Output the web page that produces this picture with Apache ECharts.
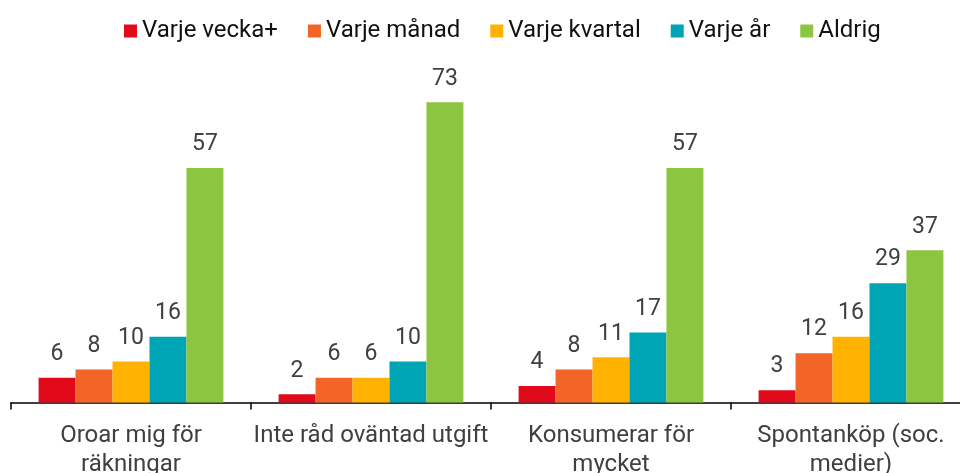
<!DOCTYPE html>
<html>
<head>
<meta charset="utf-8">
<script src="https://cdn.jsdelivr.net/npm/echarts@6/dist/echarts.min.js"></script>
<style>
  html, body { margin: 0; padding: 0; background: #fff; overflow: hidden; }
  #chart { width: 960px; height: 473px; }
</style>
</head>
<body>
<div id="chart"></div>
<script>
var categories = ['Oroar mig för\nräkningar', 'Inte råd oväntad utgift', 'Konsumerar för\nmycket', 'Spontanköp (soc.\nmedier)'];
var seriesNames = ['Varje vecka+', 'Varje månad', 'Varje kvartal', 'Varje år', 'Aldrig'];
var weekly = [6, 2, 4, 3];
var monthly = [8, 6, 8, 12];
var quarterly = [10, 6, 11, 16];
var yearly = [16, 10, 17, 29];
var never = [57, 73, 57, 37];

var myChart = echarts.init(document.getElementById('chart'));
var colors = ['#e2091a', '#f26527', '#ffb300', '#00a5b5', '#8cc540'];
var values = [weekly, monthly, quarterly, yearly, never];

var series = seriesNames.map(function(name, i) {
    return {
        name: name,
        type: 'bar',
        barGap: 0,
        barCategoryGap: '23%',
        data: values[i],
        label: {
            show: true,
            position: 'top',
            distance: 12,
            fontSize: 23,
            color: '#404040',
            fontFamily: 'Roboto'
        }
    };
});

option = {
    color: colors,
    animation: false,
    textStyle: { fontFamily: 'Roboto' },
    legend: {
        data: seriesNames,
        top: 14,
        left: 119,
        itemWidth: 13,
        itemHeight: 13,
        itemGap: 30,
        icon: 'rect',
        textStyle: { fontSize: 24, color: '#111', fontFamily: 'Roboto' }
    },
    grid: {
        top: 73.5,
        left: 11,
        width: 960,
        bottom: 70.5,
        containLabel: false,
        outerBoundsMode: 'none'
    },
    xAxis: [{
        type: 'category',
        data: categories,
        axisLine: { lineStyle: { color: '#000', width: 1.5 } },
        axisTick: { show: true, length: 7, lineStyle: { color: '#000', width: 1.5 } },
        axisLabel: {
            interval: 0,
            margin: 19,
            fontSize: 24,
            lineHeight: 29,
            color: '#404040',
            fontFamily: 'Roboto'
        }
    }],
    yAxis: [{
        type: 'value',
        min: 0,
        max: 80,
        show: false,
        splitLine: { show: false }
    }],
    series: series
};
myChart.setOption(option);
window.onresize = myChart.resize;
</script>
</body>
</html>
